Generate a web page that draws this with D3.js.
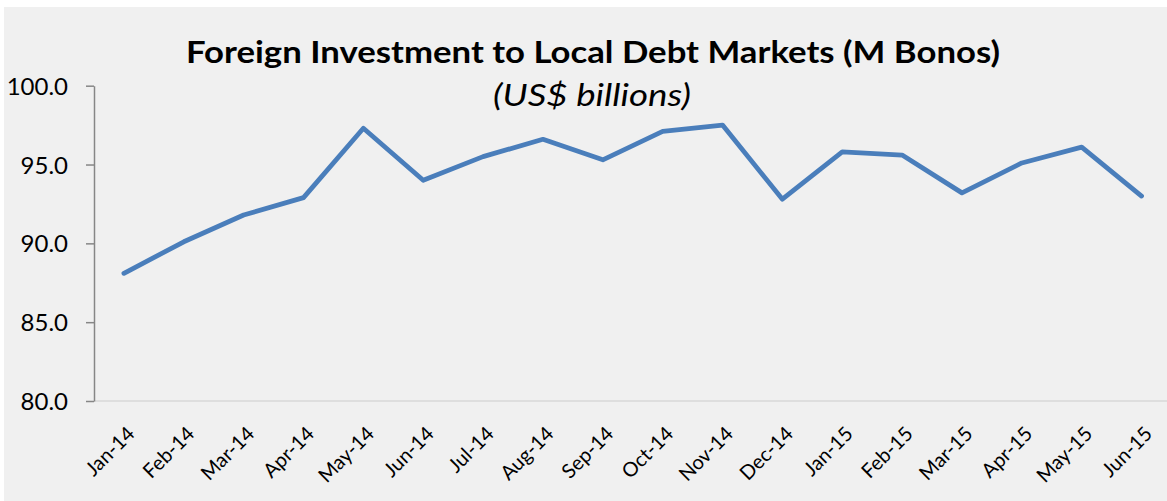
<!DOCTYPE html>
<html><head><meta charset="utf-8">
<script src="https://cdn.jsdelivr.net/npm/d3@7"></script>
<style>
html,body{margin:0;padding:0;background:#fff;}
svg{display:block;}
text{font-family:Lato,"Open Sans",sans-serif;fill:#000;}
</style></head>
<body>
<script>
const categories = ["Jan-14","Feb-14","Mar-14","Apr-14","May-14","Jun-14","Jul-14","Aug-14","Sep-14","Oct-14","Nov-14","Dec-14","Jan-15","Feb-15","Mar-15","Apr-15","May-15","Jun-15"];
const values = [88.1,90.1,91.8,92.9,97.3,94.0,95.5,96.6,95.3,97.1,97.5,92.8,95.8,95.6,93.2,95.1,96.1,93.0];
const yTicks = [80,85,90,95,100];
const titleText = "Foreign Investment to Local Debt Markets (M Bonos)";
const subtitleText = "(US$ billions)";

const W = 1167, H = 501;
const svg = d3.select("body").append("svg").attr("width", W).attr("height", H);
svg.append("rect").attr("x",4).attr("y",7).attr("width",W-4).attr("height",H-7).attr("fill","#f0f0f0");

const plotLeft = 94, plotTop = 85.7, plotBottom = 401;
const step = 59.86;
const x = d3.scaleBand().domain(categories).range([plotLeft, plotLeft + step*categories.length]).padding(0);
const y = d3.scaleLinear().domain([80,100]).range([plotBottom, plotTop]);
const cx = d => x(d) + x.bandwidth()/2;

// x axis line
svg.append("line").attr("x1",plotLeft).attr("x2",W).attr("y1",plotBottom).attr("y2",plotBottom)
  .attr("stroke","#d9d9d9").attr("stroke-width",1.5);

// y axis
const yAxis = d3.axisLeft(y).tickValues(yTicks).tickFormat(d3.format(".1f")).tickSize(8).tickSizeOuter(0);
const gy = svg.append("g").attr("transform",`translate(${plotLeft},0)`).call(yAxis);
gy.select(".domain").attr("stroke","#868686").attr("stroke-width",1.5);
gy.selectAll(".tick line").attr("stroke","#868686").attr("stroke-width",1.5);
gy.selectAll(".tick text").attr("font-size",24).attr("font-family","Lato, sans-serif").attr("fill","#000").attr("x",-26).attr("dy","0.36em");

// x labels
const gx = svg.append("g");
gx.selectAll("text").data(categories).join("text")
  .attr("transform", d => `translate(${cx(d)+12},${plotBottom+34}) rotate(-45)`)
  .attr("text-anchor","end")
  .attr("font-size",20)
  .text(d => d);

// line
const line = d3.line().x((d,i)=>cx(categories[i])).y(d=>y(d));
svg.append("path").datum(values).attr("d",line).attr("fill","none")
  .attr("stroke","#4a7ebb").attr("stroke-width",4.8).attr("stroke-linejoin","round").attr("stroke-linecap","round");

// titles
svg.append("text").attr("x",593).attr("y",63).attr("text-anchor","middle")
  .attr("font-size",31).attr("font-weight","bold").attr("textLength",814).attr("lengthAdjust","spacingAndGlyphs").text(titleText);
svg.append("text").attr("x",592).attr("y",106).attr("text-anchor","middle")
  .attr("font-size",30).attr("font-style","italic").attr("textLength",198).attr("lengthAdjust","spacingAndGlyphs").text(subtitleText);
</script>
</body></html>
